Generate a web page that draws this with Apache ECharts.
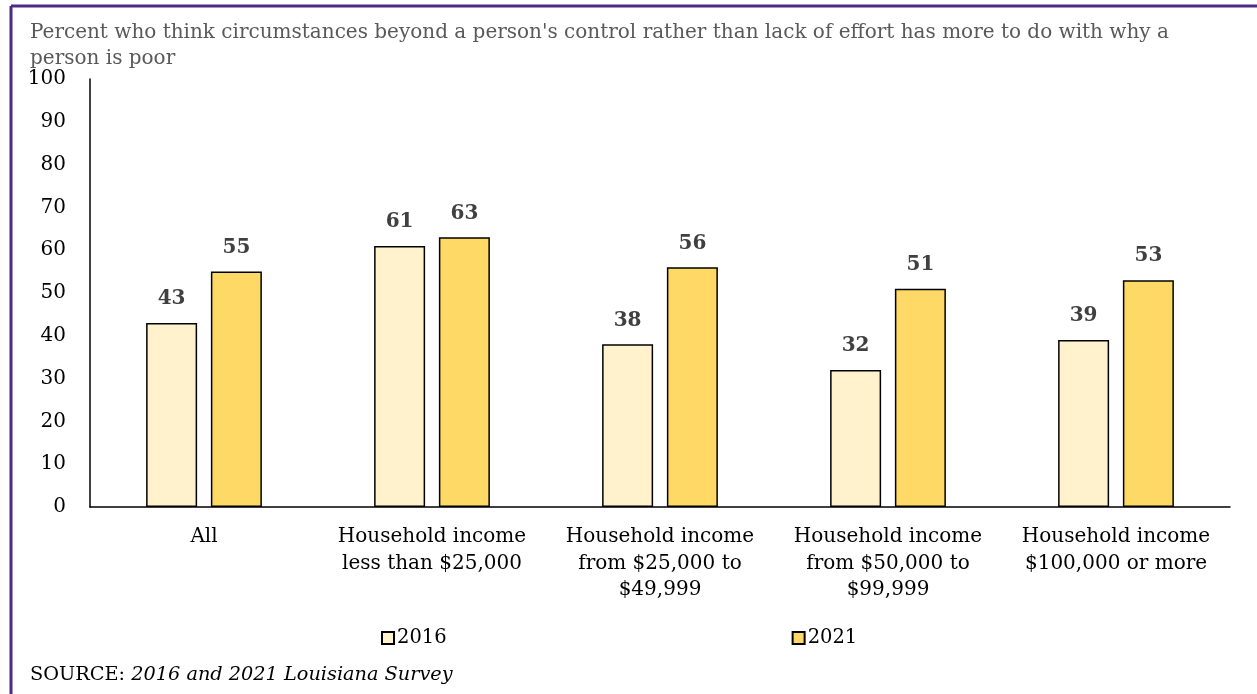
<!DOCTYPE html>
<html>
<head>
<meta charset="utf-8">
<script src="https://cdn.jsdelivr.net/npm/echarts@6/dist/echarts.min.js"></script>
<style>
  html, body { margin: 0; padding: 0; background: #fff; }
  #chart { width: 1257px; height: 694px; }
</style>
</head>
<body>
<div id="chart"></div>
<script>
// Survey groups and the share (percent) answering "circumstances beyond control"
const categories = [
  'All',
  'Household income\nless than $25,000',
  'Household income\nfrom $25,000 to\n$49,999',
  'Household income\nfrom $50,000 to\n$99,999',
  'Household income\n$100,000 or more'
];
const values2016 = [43, 61, 38, 32, 39];
const values2021 = [55, 63, 56, 51, 53];
const yTicks = [0, 10, 20, 30, 40, 50, 60, 70, 80, 90, 100];

const FONT = '"DejaVu Serif", serif';
const PURPLE = '#4e2a84';

const chart = echarts.init(document.getElementById('chart'));

chart.setOption({
  animation: false,
  backgroundColor: '#ffffff',
  textStyle: { fontFamily: FONT },
  title: {
    text: "Percent who think circumstances beyond a person's control rather than lack of effort has more to do with why a\nperson is poor",
    left: 25,
    top: 15,
    textStyle: {
      fontFamily: FONT,
      fontSize: 20,
      fontWeight: 'normal',
      color: '#595959',
      lineHeight: 26
    }
  },
  legend: {
    left: 376,
    top: 623,
    itemGap: 345,
    itemWidth: 12,
    itemHeight: 12,
    icon: 'rect',
    textStyle: { fontFamily: FONT, fontSize: 19.5, color: '#000', padding: [0, 0, 0, -2] },
    data: ['2016', '2021']
  },
  grid: {
    left: 90,
    right: 27,
    top: 79,
    bottom: 187,
    containLabel: false
  },
  xAxis: {
    type: 'category',
    data: categories,
    axisLine: { lineStyle: { color: '#000', width: 1.5 } },
    axisTick: { show: false },
    axisLabel: {
      interval: 0,
      margin: 17,
      fontFamily: FONT,
      fontSize: 20,
      color: '#000',
      lineHeight: 26.5
    }
  },
  yAxis: {
    type: 'value',
    min: yTicks[0],
    max: yTicks[yTicks.length - 1],
    interval: 10,
    axisLine: { show: true, lineStyle: { color: '#000', width: 1.5 } },
    axisTick: { show: false },
    splitLine: { show: false },
    axisLabel: {
      margin: 24,
      fontFamily: FONT,
      fontSize: 20,
      color: '#000'
    }
  },
  series: [
    {
      name: '2016',
      type: 'bar',
      data: values2016,
      barWidth: 51,
      barGap: '27%',
      itemStyle: { color: '#fff2cc', borderColor: '#000', borderWidth: 1.5 },
      label: {
        show: true,
        position: 'top',
        distance: 14,
        fontFamily: FONT,
        fontSize: 20,
        fontWeight: 'bold',
        color: '#404040'
      }
    },
    {
      name: '2021',
      type: 'bar',
      data: values2021,
      barWidth: 51,
      itemStyle: { color: '#ffd966', borderColor: '#000', borderWidth: 1.5 },
      label: {
        show: true,
        position: 'top',
        distance: 14,
        fontFamily: FONT,
        fontSize: 20,
        fontWeight: 'bold',
        color: '#404040'
      }
    }
  ],
  graphic: [
    // frame along the top and left edges
    {
      type: 'line',
      shape: { x1: 11, y1: 6, x2: 1257, y2: 6 },
      style: { stroke: PURPLE, lineWidth: 3 }
    },
    {
      type: 'line',
      shape: { x1: 11, y1: 6, x2: 11, y2: 694 },
      style: { stroke: PURPLE, lineWidth: 3 }
    },
    {
      type: 'text',
      left: 30,
      top: 665,
      style: {
        text: '{n|SOURCE: }{i|2016 and 2021 Louisiana Survey}',
        rich: {
          n: { fontFamily: FONT, fontSize: 19.3, fill: '#000' },
          i: { fontFamily: FONT, fontSize: 19.3, fontStyle: 'italic', fill: '#000' }
        }
      }
    }
  ]
});
</script>
</body>
</html>
